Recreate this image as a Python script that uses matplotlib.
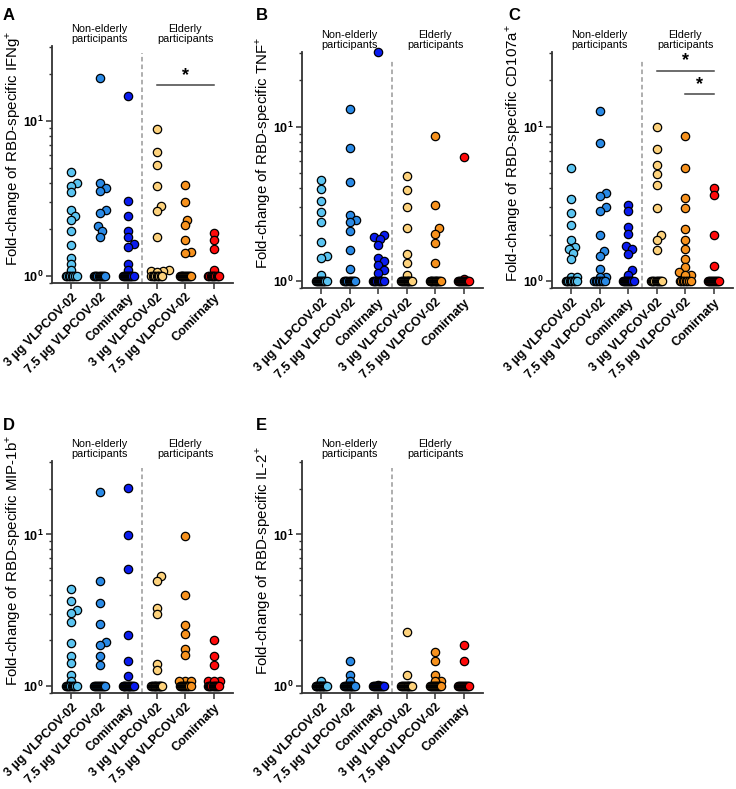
import numpy as np
import matplotlib
matplotlib.use("Agg")
import matplotlib.pyplot as plt
from matplotlib.ticker import FixedLocator, LogLocator, NullFormatter
import matplotlib.transforms as mtransforms

plt.rcParams['font.family'] = ['Liberation Sans', 'DejaVu Sans']
plt.rcParams['mathtext.fontset'] = 'custom'
plt.rcParams['mathtext.rm'] = 'Liberation Sans'
plt.rcParams['mathtext.bf'] = 'Liberation Sans:bold'

# group labels and colours
groups = ['3 µg VLPCOV-02', '7.5 µg VLPCOV-02', 'Comirnaty',
          '3 µg VLPCOV-02', '7.5 µg VLPCOV-02', 'Comirnaty']
colors = ['#5bc4f1', '#2a8ae6', '#0a1cf0', '#fdd27c', '#f7921e', '#ff0a0a']

# fold-change values (one list per group)
ifng = [
    [4.66, 3.98, 3.79, 3.46, 2.68, 2.45, 2.29, 1.96, 1.58, 1.31, 1.2, 1.09, 1, 1, 1, 1, 1, 1, 1, 1],
    [19.0, 3.98, 3.69, 3.52, 2.68, 2.53, 2.1, 1.95, 1.79, 1, 1, 1, 1, 1, 1, 1, 1, 1, 1, 1],
    [14.5, 3.06, 2.43, 1.96, 1.78, 1.6, 1.54, 1.2, 1.09, 1, 1, 1, 1, 1, 1, 1, 1, 1, 1, 1],
    [8.84, 6.35, 5.17, 3.79, 2.81, 2.61, 1.79, 1.1, 1.08, 1.08, 1.06, 1, 1, 1, 1, 1, 1, 1, 1, 1],
    [3.88, 2.99, 2.31, 2.13, 1.7, 1.43, 1.4, 1, 1, 1, 1, 1, 1, 1, 1, 1, 1, 1, 1, 1],
    [1.9, 1.7, 1.5, 1.09, 1, 1, 1, 1, 1, 1, 1, 1, 1, 1],
]
tnf = [
    [4.51, 3.93, 3.31, 2.81, 2.4, 1.8, 1.45, 1.4, 1.09, 1, 1, 1, 1, 1, 1, 1, 1, 1, 1, 1],
    [13.1, 7.24, 4.4, 2.68, 2.5, 2.42, 2.12, 1.59, 1.19, 1, 1, 1, 1, 1, 1, 1, 1, 1, 1, 1],
    [30.6, 2.0, 1.92, 1.86, 1.71, 1.4, 1.35, 1.27, 1.18, 1.12, 1, 1, 1, 1, 1, 1, 1, 1, 1, 1],
    [4.79, 3.89, 3.0, 2.19, 1.49, 1.3, 1.09, 1, 1, 1, 1, 1, 1, 1, 1, 1, 1, 1, 1, 1],
    [8.74, 3.11, 2.19, 2.02, 1.75, 1.3, 1, 1, 1, 1, 1, 1, 1, 1, 1, 1, 1, 1, 1, 1],
    [6.33, 1.03, 1, 1, 1, 1, 1, 1, 1, 1, 1, 1, 1, 1],
]
cd107a = [
    [5.42, 3.42, 2.75, 2.3, 1.83, 1.67, 1.61, 1.51, 1.39, 1.06, 1.06, 1, 1, 1, 1, 1, 1, 1, 1, 1],
    [12.6, 7.85, 3.69, 3.56, 3.02, 2.85, 2.0, 1.57, 1.46, 1.2, 1.06, 1.06, 1, 1, 1, 1, 1, 1, 1, 1],
    [3.1, 2.82, 2.23, 2.02, 1.68, 1.61, 1.5, 1.18, 1.1, 1, 1, 1, 1, 1, 1, 1, 1, 1, 1, 1],
    [10.0, 7.22, 5.61, 4.91, 4.19, 2.99, 2.0, 1.85, 1.59, 1, 1, 1, 1, 1, 1, 1, 1, 1, 1, 1],
    [8.67, 5.42, 3.47, 2.99, 2.17, 1.85, 1.61, 1.39, 1.23, 1.14, 1.09, 1.09, 1, 1, 1, 1, 1, 1, 1, 1],
    [3.99, 3.61, 2.0, 1.25, 1, 1, 1, 1, 1, 1, 1, 1, 1, 1, 1, 1],
]
mip1b = [
    [4.36, 3.64, 3.17, 3.02, 2.66, 1.91, 1.58, 1.43, 1.19, 1.08, 1, 1, 1, 1, 1, 1, 1, 1, 1, 1],
    [19.1, 4.96, 3.55, 2.55, 1.96, 1.86, 1.58, 1.38, 1, 1, 1, 1, 1, 1, 1, 1, 1, 1, 1, 1],
    [20.1, 9.95, 5.93, 2.16, 1.47, 1.17, 1, 1, 1, 1, 1, 1, 1, 1, 1, 1, 1, 1, 1, 1],
    [5.34, 4.96, 3.27, 2.99, 1.39, 1.27, 1, 1, 1, 1, 1, 1, 1, 1, 1, 1, 1, 1, 1, 1],
    [9.7, 3.97, 2.51, 2.22, 1.75, 1.6, 1.08, 1.08, 1.08, 1, 1, 1, 1, 1, 1, 1, 1, 1, 1, 1],
    [2.0, 1.58, 1.38, 1.08, 1.08, 1.08, 1, 1, 1, 1, 1, 1, 1, 1, 1, 1, 1],
]
il2 = [
    [1.08, 1, 1, 1, 1, 1, 1, 1, 1, 1, 1, 1, 1, 1, 1, 1],
    [1.47, 1.19, 1.08, 1, 1, 1, 1, 1, 1, 1, 1, 1, 1, 1, 1, 1],
    [1.02, 1, 1, 1, 1, 1, 1, 1, 1, 1, 1, 1, 1],
    [2.26, 1.18, 1, 1, 1, 1, 1, 1, 1, 1, 1, 1, 1, 1, 1],
    [1.67, 1.47, 1.19, 1.08, 1.08, 1, 1, 1, 1, 1, 1, 1, 1, 1, 1, 1, 1],
    [1.86, 1.47, 1, 1, 1, 1, 1, 1, 1, 1, 1, 1, 1, 1],
]

panels = [
    ('A', 'IFNg', ifng, [(3, 5, 17.1)]),
    ('B', 'TNF', tnf, []),
    ('C', 'CD107a', cd107a, [(3, 5, 23.1), (4, 5, 16.2)]),
    ('D', 'MIP-1b', mip1b, []),
    ('E', 'IL-2', il2, []),
]

W, H = 736, 789
# axes boxes in pixels: left, top, right, bottom
boxes = [(52, 46, 233, 283), (302, 52, 483, 288), (552, 52, 733, 288),
         (52, 461, 233, 693), (302, 461, 483, 693)]
letter_pos = [(3, 8), (256, 8), (508, 8), (3, 418), (256, 418)]

PX_X, PX_Y = 28.5, 155.0


def swarm(vals):
    vals = np.asarray(vals, dtype=float)
    xs = np.zeros(len(vals))
    base = np.where(vals <= 1.0)[0]
    if len(base) > 1:
        xs[base] = np.linspace(-0.19, 0.19, len(base))
    placed = []
    for i in np.argsort(vals):
        if vals[i] <= 1.0:
            continue
        y = np.log10(vals[i]) * PX_Y
        for k in range(30):
            off = 2.0 * ((k + 1) // 2) * (1 if k % 2 else -1)
            if all(np.hypot(off - px, y - py) >= 5.8 for px, py in placed):
                break
        placed.append((off, y))
        xs[i] = off / PX_X
    return xs


fig = plt.figure(figsize=(W / 100, H / 100), dpi=100)

for (letter, name, data, sigs), (l, t, r, b), (lx, ly) in zip(panels, boxes, letter_pos):
    ax = fig.add_axes([l / W, 1 - b / H, (r - l) / W, (b - t) / H])
    for gi, (vals, col) in enumerate(zip(data, colors)):
        xs = gi + swarm(vals)
        ax.scatter(xs, vals, s=36, color=col, edgecolor='black', linewidths=0.9,
                   zorder=3, clip_on=False)

    ax.set_yscale('log')
    ax.set_ylim(0.9, 30.5)
    ax.set_xlim(-0.67, 5.68)
    ax.yaxis.set_major_locator(FixedLocator([1, 10]))
    ax.set_yticklabels([r'$\mathbf{10^{0}}$', r'$\mathbf{10^{1}}$'], fontsize=9)
    ax.yaxis.set_minor_locator(LogLocator(base=10, subs=np.arange(2, 10)))
    ax.yaxis.set_minor_formatter(NullFormatter())
    ax.set_xticks(range(6))
    ax.set_xticklabels(groups, rotation=45, ha='right', va='top',
                       rotation_mode='anchor', fontsize=9, fontweight='bold')
    for s in ['top', 'right']:
        ax.spines[s].set_visible(False)
    for s in ['left', 'bottom']:
        ax.spines[s].set_linewidth(1.3)
        ax.spines[s].set_color('#333333')
    ax.tick_params(axis='both', which='major', length=4, width=1.1, color='#333333', pad=2)
    ax.tick_params(axis='y', which='minor', length=2.5, width=1.0, color='#333333')
    ax.set_ylabel('Fold-change of RBD-specific ' + name + r'$^{+}$', fontsize=10.8,
                  va='center')
    ax.yaxis.set_label_coords(-0.215, 0.57)

    ax.axvline(2.5, ymin=0, ymax=0.97, color='#999999', lw=1.1, ls=(0, (3, 2)), zorder=1)

    trans = mtransforms.blended_transform_factory(ax.transData, ax.transAxes)
    ax.text(1, 1.05, 'Non-elderly\nparticipants', transform=trans, ha='center',
            va='center', fontsize=7.8, linespacing=1.0)
    ax.text(4, 1.05, 'Elderly\nparticipants', transform=trans, ha='center',
            va='center', fontsize=7.8, linespacing=1.0)

    for x0, x1, yv in sigs:
        ax.plot([x0, x1], [yv, yv], color='#444444', lw=1.1, clip_on=False)
        ax.text((x0 + x1) / 2, yv * 1.02, '*', ha='center', va='bottom',
                fontsize=13, fontweight='bold')

    fig.text(lx / W, 1 - ly / H, letter, fontsize=12, fontweight='bold', va='top', ha='left')

fig.savefig('out.png', dpi=100)
